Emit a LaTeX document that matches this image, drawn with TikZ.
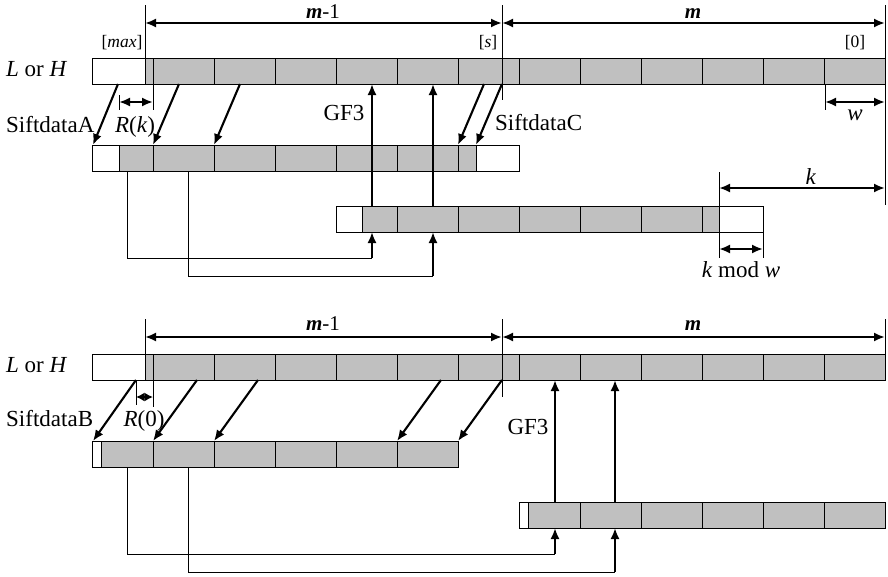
\documentclass[tikz,border=0pt]{standalone}
\usepackage{fontspec}
\setmainfont{Liberation Serif}
\usetikzlibrary{arrows.meta}
\definecolor{bargrey}{RGB}{192,192,192}
\begin{document}
\begin{tikzpicture}[x=1pt,y=-1pt,
  thinline/.style={line width=0.9pt},
  greyfill/.style={fill=bargrey},
  arr/.style={line width=2.1pt,-{Latex[length=11pt,width=9pt]}},
  dimarr/.style={line width=2.1pt,{Latex[length=11pt,width=9pt]}-{Latex[length=11pt,width=9pt]}},
  shortdim/.style={line width=2pt,{Latex[length=8.5pt,width=9pt]}-{Latex[length=8.5pt,width=9pt]}},
  lbl/.style={font=\fontsize{23}{27}\selectfont,inner sep=0pt,anchor=base},
  toplbl/.style={font=\fontsize{21}{25}\selectfont,inner sep=0pt,anchor=base},
  smalllbl/.style={font=\fontsize{17.5}{21}\selectfont,inner sep=0pt,anchor=base}]
\useasboundingbox (0,0) rectangle (888,576);

% ================= TOP SECTION =================
% row 1
\fill[greyfill] (145,58) rectangle (885,84);
\draw[thinline] (92,58) rectangle (885,84);
\foreach \x in {153,214,...,824} \draw[thinline] (\x,58) -- (\x,84);
% row 2
\fill[greyfill] (119,145) rectangle (476,171);
\draw[thinline] (92,145) rectangle (519,171);
\foreach \x in {119,153,214,275,336,397,458,476} \draw[thinline] (\x,145) -- (\x,171);
% row 3
\fill[greyfill] (362,206) rectangle (719,232);
\draw[thinline] (336,206) rectangle (763,232);
\foreach \x in {362,397,458,519,580,641,702,719} \draw[thinline] (\x,206) -- (\x,232);

% extension lines
\coordinate (tmax1) at (145,5);  \coordinate (tmax2) at (145,84);
\coordinate (ts1) at (502,5);    \coordinate (ts2) at (502,100);
\coordinate (tz1) at (885,5);    \coordinate (tz2) at (885,205);
\draw[thinline] (tmax1) -- (tmax2);
\draw[thinline] (ts1) -- (ts2);
\draw[thinline] (tz1) -- (tz2);
\draw[thinline] (825,84) -- (825,110);
\draw[thinline] (119,95) -- (119,110);
\draw[thinline] (153,84) -- (153,110);
\draw[thinline] (719,172) -- (719,258);
\draw[thinline] (763,232) -- (763,258);

% dimension arrows
\coordinate (dA1) at (145,23); \coordinate (dA2) at (502,23); \coordinate (dA3) at (885,23);
\draw[dimarr] (dA1) -- (dA2);
\draw[dimarr] (dA2) -- (dA3);
\coordinate (dw1) at (825,102); \coordinate (dw2) at (885,102);
\draw[dimarr] (dw1) -- (dw2);
\coordinate (dr1) at (119,102); \coordinate (dr2) at (153,102);
\draw[dimarr] (dr1) -- (dr2);
\coordinate (dk1) at (719,188); \coordinate (dk2) at (885,188);
\draw[dimarr] (dk1) -- (dk2);
\coordinate (dm1) at (719,249); \coordinate (dm2) at (763,249);
\draw[dimarr] (dm1) -- (dm2);

% diagonal shift arrows
\coordinate (sA1) at (118,84); \coordinate (eA1) at (93,145);
\coordinate (sA2) at (179,84); \coordinate (eA2) at (153,145);
\coordinate (sA3) at (240,84); \coordinate (eA3) at (214,145);
\coordinate (sA4) at (484,84); \coordinate (eA4) at (458,145);
\coordinate (sA5) at (502,84); \coordinate (eA5) at (476,145);
\foreach \i in {1,...,5} \draw[arr] (sA\i) -- (eA\i);

% GF3 arrows
\coordinate (gA1) at (372,206); \coordinate (hA1) at (372,84);
\coordinate (gA2) at (433,206); \coordinate (hA2) at (433,84);
\draw[arr] (gA1) -- (hA1);
\draw[arr] (gA2) -- (hA2);

% feed lines
\coordinate (fA1) at (127,171); \coordinate (cA1) at (372,258); \coordinate (tA1) at (372,232);
\coordinate (fA2) at (188,171); \coordinate (cA2) at (433,276); \coordinate (tA2) at (433,232);
\draw[thinline] (fA1) |- (cA1);
\draw[thinline] (fA2) |- (cA2);
\draw[arr] (cA1) -- (tA1);
\draw[arr] (cA2) -- (tA2);

% labels
\node[toplbl] (m1top) at (323,18) {\textbf{\textit{m}}-1};
\node[toplbl] (mtop) at (693,18) {\textbf{\textit{m}}};
\node[smalllbl] (maxl) at (122,47) {[\textit{max}]};
\node[smalllbl] (sl) at (488,47) {[\textit{s}]};
\node[smalllbl] (zl) at (855,47) {[0]};
\node[lbl,anchor=base west] (lh1) at (6,76) {\textit{L} or \textit{H}};
\node[lbl,anchor=base west] (sfa) at (6,132) {SiftdataA};
\node[lbl] (rk) at (135,132) {\textit{R}(\textit{k})};
\node[lbl] (gf1) at (344,120) {GF3};
\node[lbl,anchor=base west] (sfc) at (495,130) {SiftdataC};
\node[lbl] (wl) at (855,120) {\textit{w}};
\node[lbl] (kl) at (811,184) {\textit{k}};
\node[lbl] (kmw) at (741,277) {\textit{k} mod \textit{w}};

% ================= BOTTOM SECTION =================
% row 1
\fill[greyfill] (145,354) rectangle (885,380);
\draw[thinline] (92,354) rectangle (885,380);
\foreach \x in {153,214,...,824} \draw[thinline] (\x,354) -- (\x,380);
% row 2
\fill[greyfill] (101,441) rectangle (458,467);
\draw[thinline] (92,441) rectangle (458,467);
\foreach \x in {101,153,214,275,336,397} \draw[thinline] (\x,441) -- (\x,467);
% row 3
\fill[greyfill] (528,502) rectangle (885,528);
\draw[thinline] (519,502) rectangle (885,528);
\foreach \x in {528,580,641,702,763,824} \draw[thinline] (\x,502) -- (\x,528);

% extension lines
\coordinate (bmax1) at (145,319); \coordinate (bmax2) at (145,380);
\coordinate (bs1) at (502,319);   \coordinate (bs2) at (502,397);
\coordinate (bz1) at (885,319);   \coordinate (bz2) at (885,354);
\draw[thinline] (bmax1) -- (bmax2);
\draw[thinline] (bs1) -- (bs2);
\draw[thinline] (bz1) -- (bz2);
\draw[thinline] (136,380) -- (136,405);
\draw[thinline] (153,380) -- (153,407);

% dimension arrows
\coordinate (dB1) at (145,337); \coordinate (dB2) at (502,337); \coordinate (dB3) at (885,337);
\draw[dimarr] (dB1) -- (dB2);
\draw[dimarr] (dB2) -- (dB3);
\coordinate (dq1) at (136,397); \coordinate (dq2) at (153,397);
\draw[shortdim] (dq1) -- (dq2);

% diagonal shift arrows
\coordinate (sB1) at (136,380); \coordinate (eB1) at (93,441);
\coordinate (sB2) at (197,380); \coordinate (eB2) at (153,441);
\coordinate (sB3) at (258,380); \coordinate (eB3) at (214,441);
\coordinate (sB4) at (441,380); \coordinate (eB4) at (397,441);
\coordinate (sB5) at (502,380); \coordinate (eB5) at (458,441);
\foreach \i in {1,...,5} \draw[arr] (sB\i) -- (eB\i);

% GF3 arrows
\coordinate (gB1) at (555,502); \coordinate (hB1) at (555,380);
\coordinate (gB2) at (615,502); \coordinate (hB2) at (615,380);
\draw[arr] (gB1) -- (hB1);
\draw[arr] (gB2) -- (hB2);

% feed lines
\coordinate (fB1) at (127,467); \coordinate (cB1) at (555,554); \coordinate (tB1) at (555,528);
\coordinate (fB2) at (188,467); \coordinate (cB2) at (615,572); \coordinate (tB2) at (615,528);
\draw[thinline] (fB1) |- (cB1);
\draw[thinline] (fB2) |- (cB2);
\draw[arr] (cB1) -- (tB1);
\draw[arr] (cB2) -- (tB2);

% labels
\node[toplbl] (m1bot) at (323,330) {\textbf{\textit{m}}-1};
\node[toplbl] (mbot) at (693,330) {\textbf{\textit{m}}};
\node[lbl,anchor=base west] (lh2) at (6,372) {\textit{L} or \textit{H}};
\node[lbl,anchor=base west] (sfb) at (6,426) {SiftdataB};
\node[lbl] (r0) at (144,426) {\textit{R}(0)};
\node[lbl] (gf2) at (528,434) {GF3};
\end{tikzpicture}
\end{document}
